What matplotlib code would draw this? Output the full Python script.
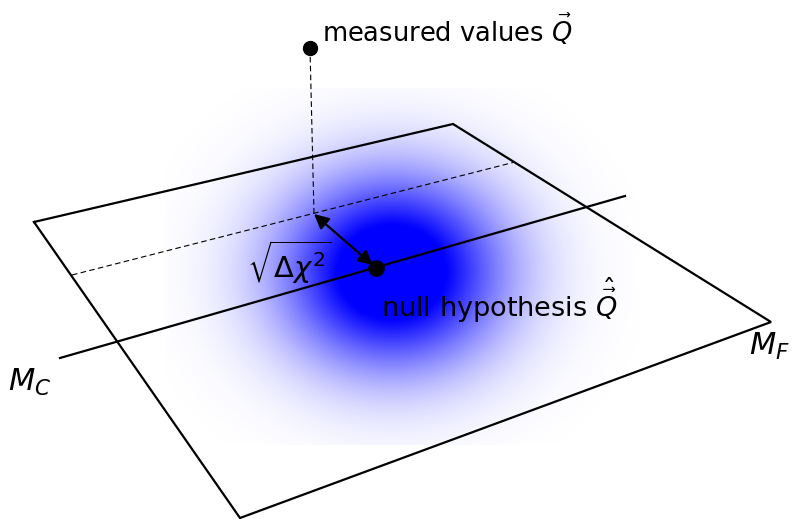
import numpy as np
import matplotlib
matplotlib.use("Agg")
import matplotlib.pyplot as plt
from matplotlib.patches import FancyArrowPatch

plt.rcParams["mathtext.fontset"] = "dejavusans"

# Drawing coordinates (pixel space, y downwards)
plane_x = [34, 453, 771, 240, 34]
plane_y = [222, 124, 322, 518, 222]

mc_line_x = [60, 625]
mc_line_y = [358, 196]

proj_line_x = [72, 515]
proj_line_y = [275, 162]

measured_xy = (310, 48)
foot_xy = (314, 214)
null_xy = (376, 268)

# Likelihood blob: centre, widths, and drawn region
blob_center = (392, 272)
blob_sigma = (76, 66)
blob_extent = (165, 640, 445, 88)

fig = plt.figure(figsize=(7.93, 5.19), dpi=100)
ax = fig.add_axes([0, 0, 1, 1])
ax.set_xlim(0, 793)
ax.set_ylim(519, 0)
ax.axis("off")

# Gaussian blob as a blue RGBA image
x0, x1, y1, y0 = blob_extent
gx = np.linspace(x0, x1, 400)
gy = np.linspace(y0, y1, 300)
GX, GY = np.meshgrid(gx, gy)
g = np.exp(-((GX - blob_center[0]) ** 2 / (2 * blob_sigma[0] ** 2)
             + (GY - blob_center[1]) ** 2 / (2 * blob_sigma[1] ** 2)))
alpha = np.clip(1.3 * g, 0, 1)
rgba = np.zeros(GX.shape + (4,))
rgba[..., 2] = 1.0
rgba[..., 3] = alpha
ax.imshow(rgba, extent=(x0, x1, y1, y0), origin="upper", zorder=0,
          interpolation="bilinear", aspect="auto")

# Plane and lines
ax.plot(plane_x, plane_y, color="black", lw=1.6, zorder=2, solid_joinstyle="miter")
ax.plot(mc_line_x, mc_line_y, color="black", lw=1.6, zorder=2)
ax.plot(proj_line_x, proj_line_y, color="black", lw=0.8, ls=(0, (5, 3)), zorder=2)
ax.plot([measured_xy[0], foot_xy[0]], [measured_xy[1], foot_xy[1]],
        color="black", lw=0.8, ls=(0, (5, 3)), zorder=2)

# Points
ax.plot(*measured_xy, "o", color="black", ms=10, zorder=4)
ax.plot(*null_xy, "o", color="black", ms=11, zorder=4)

# Double-headed distance arrow
arr = FancyArrowPatch(foot_xy, null_xy, arrowstyle="<|-|>", mutation_scale=22,
                      color="black", lw=1.6, shrinkA=0, shrinkB=3, zorder=3)
ax.add_patch(arr)

# Labels
ax.text(322, 30, r"measured values $\vec{Q}$", fontsize=18.5, ha="left", va="center")
ax.text(381, 300, r"null hypothesis $\hat{\vec{Q}}$", fontsize=19.5, ha="left", va="center")
ax.text(247, 262, r"$\sqrt{\Delta\chi^2}$", fontsize=21, ha="left", va="center")
ax.text(8, 382, r"$M_C$", fontsize=22, ha="left", va="center")
ax.text(749, 346, r"$M_F$", fontsize=22, ha="left", va="center")

fig.savefig("out.png", dpi=100)
